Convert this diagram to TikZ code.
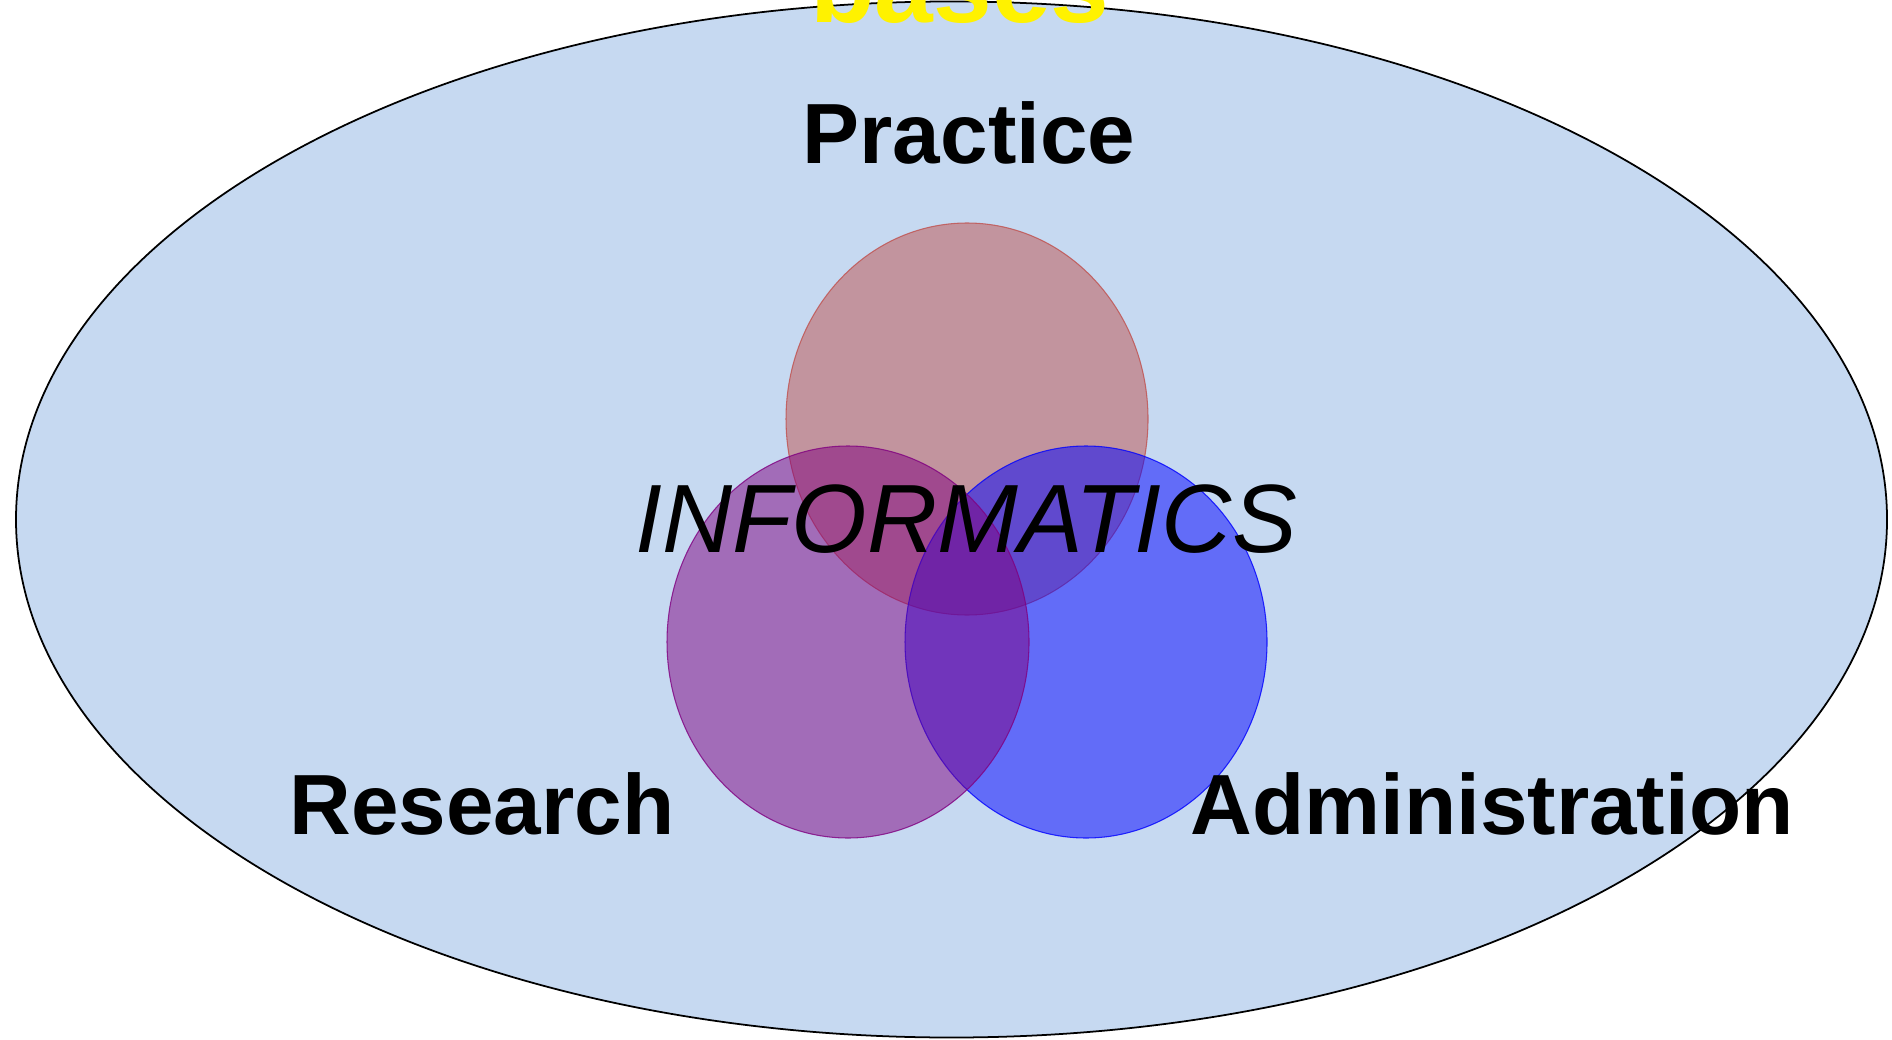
\documentclass[tikz,border=0pt]{standalone}
\usepackage{fontspec}
\setmainfont{Liberation Sans}
\begin{document}
\begin{tikzpicture}[x=0.01cm,y=-0.01cm,
  bigtxt/.style={font=\fontsize{24.3pt}{28pt}\selectfont\bfseries, anchor=base, inner sep=0pt},
  venn/.style={fill opacity=0.5, draw opacity=0.8, line width=0.3pt}]
\definecolor{bgblue}{RGB}{198,217,241}
\definecolor{prac}{RGB}{192,80,77}
\definecolor{resc}{RGB}{128,0,128}
\definecolor{admc}{RGB}{0,0,255}
\useasboundingbox (0,0) rectangle (1892,1040);
\fill[white] (0,0) rectangle (1892,1040);
\draw[draw=black, fill=bgblue, line width=0.5pt] (951.5,519.5) ellipse [x radius=935.5, y radius=518];
\draw[venn, fill=prac, draw=prac] (967,419) ellipse [x radius=181, y radius=196];
\draw[venn, fill=admc, draw=admc] (1086,642) ellipse [x radius=181, y radius=196];
\draw[venn, fill=resc, draw=resc] (848,642) ellipse [x radius=181, y radius=196];
\node[font=\fontsize{30pt}{34pt}\selectfont\bfseries, text=yellow, anchor=base, inner sep=0pt] (bases) at (960,23) {bases};
\node[bigtxt] (practice) at (969,164) {Practice};
\node[font=\fontsize{27.6pt}{32pt}\selectfont\itshape, anchor=base, inner sep=0pt] (info) at (966,552) {INFORMATICS};
\node[bigtxt] (research) at (482,834) {Research};
\node[bigtxt] (admin) at (1492,834) {Administration};
\end{tikzpicture}
\end{document}
